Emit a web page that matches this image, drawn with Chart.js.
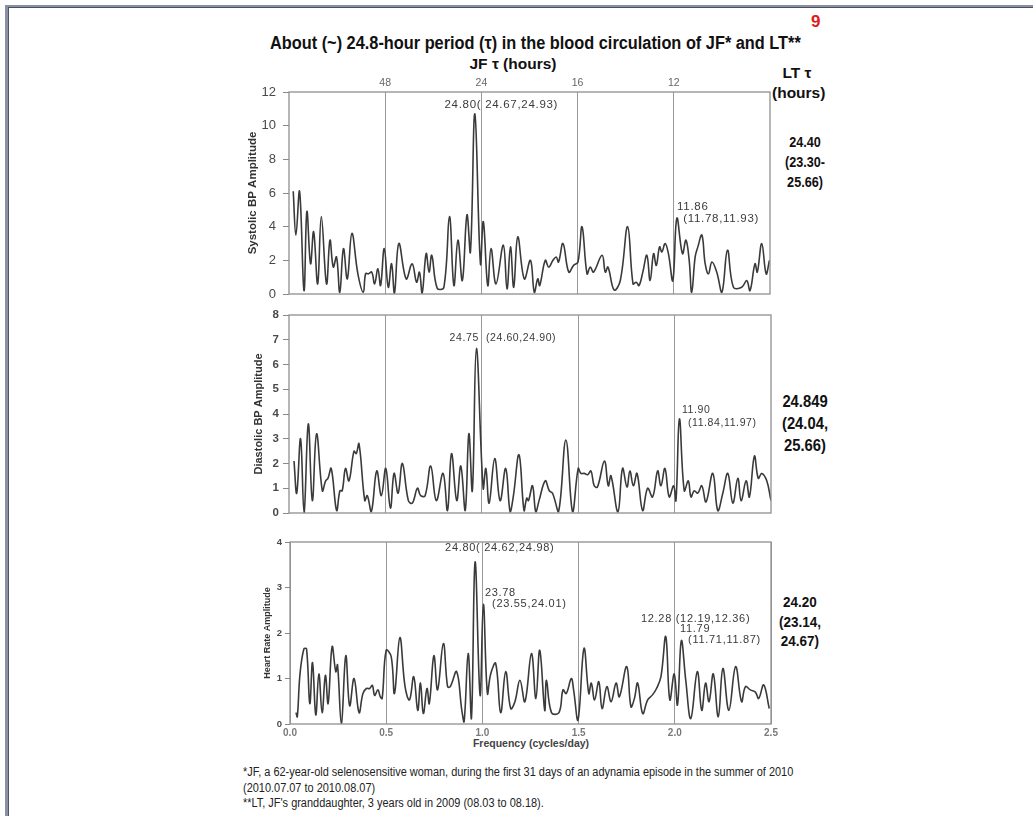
<!DOCTYPE html>
<html>
<head>
<meta charset="utf-8">
<script src="https://cdn.jsdelivr.net/npm/chart.js@4.4.1/dist/chart.umd.min.js"></script>
<style>
  html, body { margin:0; padding:0; background:#fff; }
  body { width:1033px; height:816px; position:relative; overflow:hidden; font-family:"Liberation Sans", Arial, sans-serif; }
  .abs { position:absolute; white-space:nowrap; }
  .sq { transform-origin:left center; }
  .sqc { transform-origin:center center; transform:scaleX(0.87); }
  canvas { position:absolute; }
</style>
</head>
<body>
<!-- page frame -->
<div class="abs" style="left:5px;top:5px;width:1028px;height:2px;background:#8a90a4;"></div>
<div class="abs" style="left:9px;top:7px;width:1024px;height:1px;background:#4c5060;"></div>
<div class="abs" style="left:5px;top:5px;width:3px;height:811px;background:#8a90a8;"></div>
<div class="abs" style="left:8px;top:7px;width:1px;height:809px;background:#50545e;"></div>

<div class="abs sq" style="left:270px;top:32px;font-size:18px;line-height:22px;font-weight:bold;color:#111;transform:scaleX(0.907);">About (~) 24.8-hour period (τ) in the blood circulation of JF* and LT**</div>
<div class="abs" style="left:811px;top:12px;font-size:17px;line-height:20px;font-weight:bold;color:#e01b1b;">9</div>
<div class="abs" style="left:463px;top:55px;width:100px;text-align:center;font-size:15.5px;line-height:18px;font-weight:bold;color:#111;">JF τ (hours)</div>
<div class="abs" style="left:772px;top:63px;width:50px;text-align:center;font-size:15.5px;line-height:20px;font-weight:bold;color:#111;">LT τ<br>(hours)</div>

<div class="abs sqc" style="left:770px;top:132px;width:70px;text-align:center;font-size:14.5px;line-height:20px;font-weight:bold;color:#111;">24.40<br>(23.30-<br>25.66)</div>
<div class="abs sqc" style="left:770px;top:391px;width:70px;text-align:center;font-size:17px;line-height:22px;font-weight:bold;color:#111;">24.849<br>(24.04,<br>25.66)</div>
<div class="abs sqc" style="left:765px;top:592px;width:70px;text-align:center;font-size:15.5px;line-height:19.5px;font-weight:bold;color:#111;">24.20<br>(23.14,<br>24.67)</div>

<div class="abs" style="left:431px;top:737px;width:200px;text-align:center;font-size:10.5px;line-height:13px;font-weight:bold;color:#444;">Frequency (cycles/day)</div>

<div class="abs sq" style="left:243px;top:765px;font-size:12.5px;line-height:15.5px;color:#222;transform:scaleX(0.876);transform-origin:left top;">*JF, a 62-year-old selenosensitive woman, during the first 31 days of an adynamia episode in the summer of 2010<br>(2010.07.07 to 2010.08.07)<br>**LT, JF's granddaughter, 3 years old in 2009 (08.03 to 08.18).</div>

<canvas id="c1" width="544" height="232" style="left:246px;top:70px;"></canvas>
<canvas id="c2" width="538" height="220" style="left:252px;top:300px;"></canvas>
<canvas id="c3" width="528" height="230" style="left:262px;top:525px;"></canvas>

<script>
// ---------- data ----------
const gridFreqs = [0.5, 1.0, 1.5, 2.0];
const periodLabels = ['48', '24', '16', '12'];
const freqTicks = [0, 0.5, 1.0, 1.5, 2.0, 2.5];
const freqTickLabels = ['0.0', '0.5', '1.0', '1.5', '2.0', '2.5'];
const sysTicks = [0, 2, 4, 6, 8, 10, 12];
const diaTicks = [0, 1, 2, 3, 4, 5, 6, 7, 8];
const hrTicks = [0, 1, 2, 3, 4];

const sysFreq = [0.022,0.036,0.055,0.078,0.093,0.112,0.128,0.149,0.168,0.195,
  0.213,0.230,0.247,0.264,0.283,0.303,0.327,0.358,0.386,0.398,
  0.413,0.43,0.445,0.462,0.476,0.495,0.516,0.533,0.548,0.571,
  0.609,0.640,0.663,0.678,0.692,0.713,0.728,0.742,0.770,0.805,
  0.834,0.857,0.878,0.901,0.925,0.943,0.966,0.995,1.010,1.033,
  1.050,1.076,1.114,1.133,1.151,1.168,1.189,1.223,1.255,1.275,
  1.293,1.303,1.332,1.350,1.372,1.389,1.401,1.424,1.454,1.479,
  1.502,1.523,1.549,1.566,1.583,1.627,1.644,1.658,1.690,1.722,
  1.760,1.788,1.805,1.819,1.839,1.860,1.877,1.895,1.909,1.926,
  1.938,1.955,1.972,1.995,2.016,2.045,2.063,2.080,2.093,2.111,
  2.125,2.146,2.163,2.180,2.198,2.223,2.250,2.279,2.310,2.353,
  2.379,2.396,2.422,2.434,2.457,2.480,2.497];
const sysAmp = [6.1,3.5,6.1,0.2,4.9,1.8,3.7,0.6,4.6,0.6,
  3.2,1.6,2.2,0.1,2.7,0.9,3.6,1.2,0.1,1.2,
  1.2,1.3,0.6,1.5,0.5,2.7,0.4,1.8,0.05,3.0,
  0.9,1.8,0.7,1.3,0.05,2.4,1.3,2.3,0.35,0.4,
  4.6,0.5,3.2,0.8,4.7,2.5,10.7,1.8,4.3,0.5,
  2.7,0.6,2.9,0.3,2.8,0.4,3.4,0.9,2.0,0.1,
  0.9,0.5,2.0,1.6,2.0,2.2,1.9,3.0,1.3,1.7,
  1.9,4.0,1.2,1.6,1.3,2.3,1.3,1.6,0.24,0.8,
  4.0,0.6,0.7,0.5,1.3,2.3,0.8,2.4,1.7,2.8,
  2.5,3.0,2.4,0.8,4.5,2.4,3.2,2.0,0.1,2.2,
  2.8,3.5,1.8,1.2,1.9,1.3,0.1,2.6,0.4,0.4,
  0.8,0.2,1.8,1.3,3.0,1.2,2.0];

const diaFreq = [0.026,0.040,0.060,0.078,0.100,0.121,0.143,0.173,0.190,0.202,
  0.219,0.247,0.264,0.276,0.293,0.311,0.337,0.349,0.363,0.393,
  0.406,0.427,0.455,0.479,0.502,0.526,0.545,0.566,0.588,0.619,
  0.640,0.666,0.683,0.706,0.735,0.764,0.799,0.822,0.843,0.870,
  0.891,0.914,0.933,0.951,0.972,1.007,1.021,1.038,1.067,1.095,
  1.124,1.147,1.164,1.193,1.219,1.233,1.242,1.263,1.280,1.297,
  1.329,1.350,1.367,1.398,1.436,1.471,1.500,1.514,1.531,1.549,
  1.566,1.583,1.600,1.636,1.656,1.670,1.706,1.730,1.753,1.768,
  1.786,1.805,1.834,1.860,1.886,1.912,1.929,1.950,1.972,1.995,
  2.007,2.025,2.050,2.071,2.085,2.102,2.120,2.141,2.163,2.198,
  2.224,2.250,2.276,2.302,2.328,2.345,2.371,2.388,2.414,2.434,
  2.452,2.478,2.500];
const diaAmp = [2.1,0.8,3.0,0.0,3.6,0.5,3.2,0.9,1.3,1.4,
  1.8,0.1,0.9,0.9,1.8,1.3,2.5,2.4,2.8,0.5,
  0.7,0.05,1.7,0.7,1.8,0.2,1.6,0.8,2.0,0.5,
  0.4,1.0,0.7,0.7,1.9,0.5,1.6,0.1,2.4,0.5,
  1.9,0.1,3.2,0.9,6.65,1.0,1.8,0.4,2.2,0.5,
  1.8,0.05,0.7,2.35,0.1,0.6,0.5,1.1,0.05,0.5,
  1.3,0.9,0.8,0.05,2.95,0.05,1.8,1.6,1.6,1.55,
  1.7,1.1,1.05,2.1,1.1,1.5,0.05,1.8,1.05,1.7,
  1.1,1.6,0.1,1.0,0.65,1.7,1.1,1.8,0.65,1.1,
  0.5,3.8,0.9,1.3,0.65,0.9,0.8,1.1,0.45,1.6,
  0.1,0.8,1.6,0.4,1.4,0.5,1.3,0.65,2.3,1.4,
  1.6,1.3,0.5];

const hrFreq = [0.031,0.038,0.052,0.072,0.086,0.103,0.117,0.134,0.150,0.167,
  0.184,0.198,0.219,0.238,0.247,0.267,0.290,0.310,0.333,0.359,
  0.379,0.397,0.414,0.428,0.440,0.457,0.469,0.479,0.500,0.526,
  0.543,0.571,0.598,0.621,0.643,0.664,0.678,0.693,0.712,0.724,
  0.748,0.767,0.797,0.819,0.833,0.866,0.893,0.905,0.926,0.943,
  0.962,0.988,1.005,1.026,1.043,1.069,1.095,1.121,1.147,1.169,
  1.195,1.221,1.255,1.278,1.298,1.324,1.333,1.359,1.398,1.419,
  1.436,1.462,1.474,1.497,1.528,1.553,1.566,1.583,1.605,1.622,
  1.647,1.669,1.695,1.712,1.750,1.772,1.790,1.807,1.833,1.859,
  1.884,1.905,1.928,1.953,1.974,1.997,2.014,2.034,2.057,2.083,
  2.117,2.140,2.160,2.178,2.200,2.226,2.250,2.281,2.316,2.347,
  2.367,2.393,2.419,2.436,2.462,2.491];
const hrAmp = [0.25,0.16,1.1,1.65,1.65,0.45,1.35,0.2,1.1,0.25,
  1.07,0.45,1.7,1.15,1.3,0.0,1.5,0.4,1.0,0.25,
  0.67,0.78,0.78,0.85,0.63,0.75,0.6,0.56,1.62,1.48,
  0.67,1.9,0.82,0.53,1.04,0.3,0.9,0.23,0.78,0.45,
  1.5,0.75,1.77,0.82,0.82,1.15,0.3,0.05,1.55,0.12,
  3.56,0.63,2.63,0.67,1.1,1.33,0.25,1.15,0.34,0.49,
  0.96,0.49,1.55,0.56,1.62,0.3,0.96,0.25,0.25,0.75,
  0.67,1.0,0.75,0.09,1.66,0.67,0.9,0.53,0.93,0.34,
  0.82,0.49,0.9,0.6,1.26,0.38,0.56,0.9,0.23,0.53,
  0.64,0.78,1.04,1.92,0.53,1.1,0.42,1.83,0.96,0.12,
  1.15,0.3,0.9,0.49,1.1,0.16,1.22,0.3,1.26,0.49,
  0.82,0.75,0.7,0.56,0.86,0.34];

// peak annotations: text, frequency, amplitude (data coordinates)
const sysNotes = [['24.80( 24.67,24.93)', 0.808, 11.25], ['11.86', 2.017, 5.18], ['(11.78,11.93)', 2.049, 4.46]];
const diaNotes = [['24.75  (24.60,24.90)', 0.833, 7.07], ['11.90', 2.038, 4.16], ['(11.84,11.97)', 2.069, 3.64]];
const hrNotes = [['24.80( 24.62,24.98)', 0.806, 3.86], ['23.78', 1.013, 2.89], ['(23.55,24.01)', 1.050, 2.63],
  ['12.28 (12.19,12.36)', 1.824, 2.30], ['11.79', 2.027, 2.08], ['(11.71,11.87)', 2.069, 1.84]];

// ---------- drawing ----------
const FONT = "'Liberation Sans', Arial, sans-serif";
const toPts = (xs, ys) => xs.map((x, i) => ({x: x, y: ys[i]}));

const framePlugin = {
  id: 'frame',
  afterDatasetsDraw(chart, args, opts) {
    const {ctx, chartArea: a, scales} = chart;
    ctx.save();
    ctx.strokeStyle = '#8f8f8f';
    ctx.lineWidth = 1.3;
    ctx.strokeRect(a.left, a.top, a.right - a.left, a.bottom - a.top);
    ctx.fillStyle = '#3a3a3a';
    ctx.font = (opts.size || 10) + 'px ' + FONT;
    try { ctx.letterSpacing = (opts.spacing || 0) + 'px'; } catch (e) {}
    ctx.textBaseline = 'middle';
    ctx.textAlign = 'left';
    (opts.notes || []).forEach(n => {
      ctx.fillText(n[0], scales.x.getPixelForValue(n[1]), scales.y.getPixelForValue(n[2]));
    });
    ctx.restore();
  }
};

function fixAxis(size, dim) {
  return function(ax) {
    ax[dim] = size;
    ax.paddingLeft = 0; ax.paddingRight = 0; ax.paddingTop = 0; ax.paddingBottom = 0;
  };
}

function makeChart(id, cfg) {
  const scales = {
    x: {
      type: 'linear', position: 'bottom', min: 0, max: 2.5,
      afterBuildTicks: ax => { ax.ticks = (cfg.xLabels ? freqTicks : gridFreqs).map(v => ({value: v})); },
      ticks: {
        display: !!cfg.xLabels, autoSkip: false, maxRotation: 0, padding: 3,
        font: {size: 10, family: FONT, weight: 'bold'}, color: '#7a7a7a',
        callback: (v, i) => cfg.xLabels ? freqTickLabels[i] : ''
      },
      grid: {display: !cfg.topAxis, color: '#9a9a9a', lineWidth: 1, drawTicks: false},
      border: {display: false},
      afterFit: fixAxis(cfg.bottomH, 'height')
    },
    y: {
      min: 0, max: cfg.yMax,
      afterBuildTicks: ax => { ax.ticks = cfg.yTicks.map(v => ({value: v})); },
      ticks: {font: {size: cfg.yFont, family: FONT, weight: cfg.yBold ? 'bold' : 'normal'}, color: '#4a4a4a', padding: cfg.yPad},
      grid: {drawOnChartArea: false, drawTicks: true, tickLength: cfg.tickLen, color: '#888'},
      border: {display: false},
      title: {display: true, text: cfg.yTitle, color: '#333', padding: {top: 0, bottom: 0},
              font: {size: cfg.titleSize, family: FONT, weight: 'bold', lineHeight: 1.2}},
      afterFit: fixAxis(cfg.yW, 'width')
    }
  };
  if (cfg.topAxis) {
    scales.xTop = {
      type: 'linear', position: 'top', min: 0, max: 2.5,
      afterBuildTicks: ax => { ax.ticks = gridFreqs.map(v => ({value: v})); },
      ticks: {autoSkip: false, maxRotation: 0, padding: 3, font: {size: 10.5, family: FONT}, color: '#666',
              callback: (v, i) => periodLabels[i]},
      grid: {color: '#9a9a9a', lineWidth: 1, drawTicks: false},
      border: {display: false},
      afterFit: fixAxis(cfg.topH, 'height')
    };
  }
  return new Chart(document.getElementById(id), {
    type: 'line',
    data: {datasets: [{data: toPts(cfg.xs, cfg.ys), borderColor: '#3a3a3a', borderWidth: 1.6,
                       pointRadius: 0, tension: 0.4, fill: false}]},
    options: {
      responsive: false, animation: false, devicePixelRatio: 1,
      layout: {padding: {left: 0, right: cfg.padR, top: cfg.padT || 0, bottom: 0}},
      plugins: {legend: {display: false}, tooltip: {enabled: false},
                frame: {notes: cfg.notes, size: cfg.noteSize, spacing: cfg.noteSpacing}},
      scales: scales
    },
    plugins: [framePlugin]
  });
}

makeChart('c1', {xs: sysFreq, ys: sysAmp, yMax: 12, yTicks: sysTicks, yTitle: 'Systolic BP Amplitude',
  yFont: 13, yBold: false, yPad: 7, tickLen: 6, titleSize: 11.5, yW: 43, topAxis: true, topH: 22,
  bottomH: 8, padR: 20, notes: sysNotes, noteSize: 11.5, noteSpacing: 0.7});
makeChart('c2', {xs: diaFreq, ys: diaAmp, yMax: 8, yTicks: diaTicks, yTitle: 'Diastolic BP Amplitude',
  yFont: 11.5, yBold: true, yPad: 4, tickLen: 6, titleSize: 11, yW: 37, padT: 15,
  bottomH: 7, padR: 19, notes: diaNotes, noteSize: 10.5, noteSpacing: 0.6});
makeChart('c3', {xs: hrFreq, ys: hrAmp, yMax: 4, yTicks: hrTicks, yTitle: 'Heart Rate Amplitude',
  yFont: 9.5, yBold: true, yPad: 3, tickLen: 5, titleSize: 9, yW: 28, padT: 17, xLabels: true,
  bottomH: 31, padR: 19, notes: hrNotes, noteSize: 11, noteSpacing: 0.7});
</script>
</body>
</html>
